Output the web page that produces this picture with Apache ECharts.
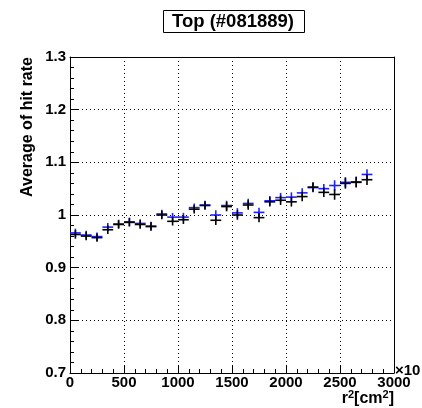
<!DOCTYPE html>
<html>
<head>
<meta charset="utf-8">
<script src="https://cdn.jsdelivr.net/npm/echarts@6/dist/echarts.min.js"></script>
<style>html,body{margin:0;padding:0;background:#fff;}#c{width:422px;height:408px;}</style>
</head>
<body>
<div id="c"></div>
<script>
// bin centres in r^2 [cm^2]
const binCenters = [50,150,250,350,450,550,650,750,850,950,1050,1150,1250,1350,1450,1550,1650,1750,1850,1950,2050,2150,2250,2350,2450,2550,2650,2750];
const binHalfWidth = [50,50,50,50,50,50,50,50,50,50,50,50,50,50,50,50,50,50,50,50,50,50,50,50,50,50,50,50];
const blueValues = [0.966,0.962,0.959,0.977,0.983,0.987,0.984,0.979,1.002,0.996,0.996,1.014,1.019,1.000,1.018,1.004,1.022,1.005,1.027,1.033,1.034,1.042,1.052,1.050,1.056,1.062,1.063,1.077];
const blackValues = [0.963,0.960,0.957,0.972,0.982,0.986,0.982,0.978,1.000,0.988,0.991,1.011,1.018,0.990,1.016,1.000,1.019,0.995,1.025,1.028,1.025,1.035,1.053,1.043,1.039,1.060,1.062,1.067];
const blueErrors = [0.008,0.008,0.008,0.008,0.008,0.008,0.008,0.008,0.008,0.008,0.008,0.008,0.008,0.009,0.009,0.009,0.009,0.009,0.009,0.009,0.009,0.009,0.009,0.009,0.010,0.010,0.010,0.010];
const blackErrors = [0.008,0.008,0.008,0.008,0.008,0.008,0.008,0.008,0.008,0.008,0.008,0.008,0.008,0.009,0.009,0.009,0.009,0.009,0.009,0.009,0.009,0.009,0.009,0.009,0.010,0.010,0.010,0.010];
const xTicks = [0,500,1000,1500,2000,2500,3000];
const yTicks = [0.7,0.8,0.9,1.0,1.1,1.2,1.3];

const FONT = '"Liberation Sans", Arial, Helvetica, sans-serif';

function crossSeries(name, vals, errs, color) {
  return {
    name: name,
    type: 'custom',
    xAxisIndex: 0, yAxisIndex: 0,
    data: binCenters.map((x, i) => [x, vals[i], errs[i], binHalfWidth[i]]),
    renderItem: function (params, api) {
      const x = api.value(0), y = api.value(1), e = api.value(2), h = api.value(3);
      const l = api.coord([x - h, y]), r = api.coord([x + h, y]);
      const b = api.coord([x, y - e]), t = api.coord([x, y + e]);
      const st = { stroke: color, lineWidth: 1.6 };
      return {
        type: 'group',
        children: [
          { type: 'line', shape: { x1: l[0], y1: l[1], x2: r[0], y2: r[1] }, style: st },
          { type: 'line', shape: { x1: b[0], y1: b[1], x2: t[0], y2: t[1] }, style: st }
        ]
      };
    },
    z: 5
  };
}

const axisLineStyle = { show: true, onZero: false, lineStyle: { color: '#000', width: 1 } };
const gridLine = { show: true, lineStyle: { color: '#000', type: [1, 3], width: 1 } };
const majorTick = { show: true, inside: true, length: 8, lineStyle: { color: '#000', width: 1 } };
const minorTick = { show: true, splitNumber: 5, length: 4, lineStyle: { color: '#000', width: 1 } };

const chart = echarts.init(document.getElementById('c'), null, { renderer: 'canvas' });
chart.setOption({
  animation: false,
  backgroundColor: '#fff',
  title: {
    text: 'Top (#081889)',
    left: 163,
    top: 10,
    borderColor: '#000',
    borderWidth: 1,
    padding: [2, 11, 1, 9],
    textStyle: { fontFamily: FONT, fontWeight: 'bold', fontSize: 18.5, color: '#000', lineHeight: 20 }
  },
  grid: { left: 70, right: 28, top: 57, bottom: 35, containLabel: false },
  xAxis: [{
    type: 'value', position: 'bottom', min: xTicks[0], max: xTicks[xTicks.length - 1], interval: 500,
    axisLine: axisLineStyle,
    axisTick: majorTick,
    minorTick: minorTick,
    axisLabel: { show: true, margin: 2, color: '#000', fontFamily: FONT, fontWeight: 'bold', fontSize: 15, showMinLabel: true, showMaxLabel: true,
      formatter: v => String(Math.round(v)) },
    splitLine: gridLine
  }, {
    type: 'value', position: 'top', min: xTicks[0], max: xTicks[xTicks.length - 1], interval: 500,
    axisLine: axisLineStyle, axisTick: { show: false }, axisLabel: { show: false }, splitLine: { show: false }
  }],
  yAxis: [{
    type: 'value', position: 'left', min: yTicks[0], max: yTicks[yTicks.length - 1], interval: 0.1,
    axisLine: axisLineStyle,
    axisTick: majorTick,
    minorTick: minorTick,
    axisLabel: {
      show: true, margin: 4, color: '#000', fontFamily: FONT, fontWeight: 'bold', fontSize: 15,
      showMinLabel: true, showMaxLabel: true,
      formatter: v => String(Math.round(v * 10) / 10)
    },
    splitLine: gridLine
  }, {
    type: 'value', position: 'right', min: yTicks[0], max: yTicks[yTicks.length - 1], interval: 0.1,
    axisLine: axisLineStyle, axisTick: { show: false }, axisLabel: { show: false }, splitLine: { show: false }
  }],
  graphic: [
    {
      type: 'text', x: 20, y: 57, rotation: Math.PI / 2,
      style: { text: 'Average of hit rate', textAlign: 'right', textVerticalAlign: 'top',
        fontFamily: FONT, fontWeight: 'bold', fontSize: 16, fill: '#000' }
    },
    {
      type: 'text', x: 394, y: 408,
      style: {
        text: 'r{s|2}[cm{s|2}]', textAlign: 'right', textVerticalAlign: 'bottom',
        fontFamily: FONT, fontWeight: 'bold', fontSize: 16, fill: '#000',
        rich: { s: { fontFamily: FONT, fontWeight: 'bold', fontSize: 11, verticalAlign: 'top', padding: [0, 0, 8, 0] } }
      }
    },
    {
      type: 'text', x: 395, y: 371,
      style: { text: '×10', textAlign: 'left', textVerticalAlign: 'middle', fontFamily: FONT, fontWeight: 'bold', fontSize: 15, fill: '#000' }
    }
  ],
  series: [
    crossSeries('blue', blueValues, blueErrors, '#2020ff'),
    crossSeries('black', blackValues, blackErrors, '#000')
  ]
});
</script>
</body>
</html>
